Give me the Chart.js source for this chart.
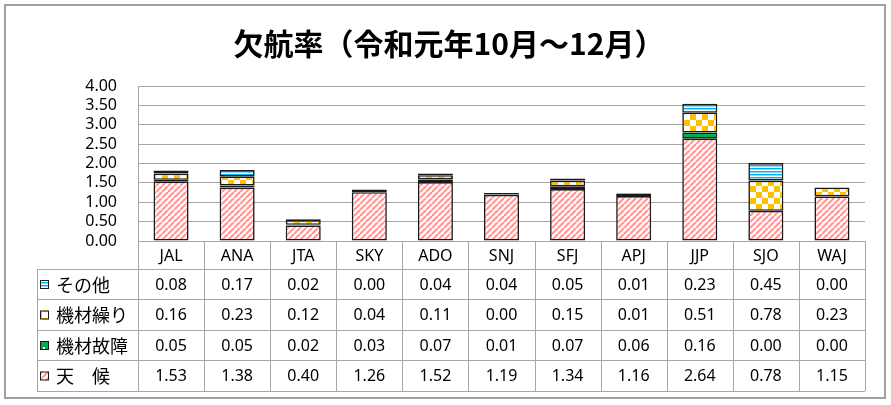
<!DOCTYPE html>
<html lang="ja">
  <head>
    <meta charset="UTF-8" />
    <title>欠航率</title>
    <script src="https://cdn.jsdelivr.net/npm/chart.js@4.4.1/dist/chart.umd.min.js"></script>
    <style>
      body { margin: 0; background: #fff; }
      canvas { display: block; }
    </style>
  </head>
  <body>
    <canvas id="chart-kekko" width="891" height="405"></canvas>

    <script>
      // airline codes
      const airlines = ["JAL", "ANA", "JTA", "SKY", "ADO", "SNJ", "SFJ", "APJ", "JJP", "SJO", "WAJ"];

      // rates per cause (%)
      const tenkou = [1.53, 1.38, 0.40, 1.26, 1.52, 1.19, 1.34, 1.16, 2.64, 0.78, 1.15];
      const kizaiKosho = [0.05, 0.05, 0.02, 0.03, 0.07, 0.01, 0.07, 0.06, 0.16, 0.00, 0.00];
      const kizaiKuri = [0.16, 0.23, 0.12, 0.04, 0.11, 0.00, 0.15, 0.01, 0.51, 0.78, 0.23];
      const sonota = [0.08, 0.17, 0.02, 0.00, 0.04, 0.04, 0.05, 0.01, 0.23, 0.45, 0.00];

      const yTicks = [0, 0.5, 1, 1.5, 2, 2.5, 3, 3.5, 4];
      const titleText = "欠航率（令和元年10月～12月）";

      const canvas = document.getElementById("chart-kekko");
      const ctx = canvas.getContext("2d");

      // little tiles for the excel-like fill patterns
      function makePattern(size, drawTile) {
        const c = document.createElement("canvas");
        c.width = size[0];
        c.height = size[1];
        const g = c.getContext("2d");
        drawTile(g, size[0], size[1]);
        return ctx.createPattern(c, "repeat");
      }

      const pinkStripe = makePattern([6, 6], function (g, w, h) {
        g.fillStyle = "#fff";
        g.fillRect(0, 0, w, h);
        g.strokeStyle = "#ff9999";
        g.lineWidth = 2.2;
        for (let k = -1; k <= 1; k++) {
          g.beginPath();
          g.moveTo(k * w, h);
          g.lineTo(k * w + w, 0);
          g.stroke();
        }
      });

      const greenDots = makePattern([8, 8], function (g, w, h) {
        g.fillStyle = "#00b050";
        g.fillRect(0, 0, w, h);
        g.fillStyle = "#fff";
        g.fillRect(3, 3, 2, 2);
      });

      const orangeCheck = makePattern([12, 12], function (g, w, h) {
        g.fillStyle = "#fff";
        g.fillRect(0, 0, w, h);
        g.fillStyle = "#ffc000";
        g.fillRect(0, 0, 6, 6);
        g.fillRect(6, 6, 6, 6);
      });

      const blueLines = makePattern([4, 3], function (g, w, h) {
        g.fillStyle = "#fff";
        g.fillRect(0, 0, w, h);
        g.fillStyle = "#00b0f0";
        g.fillRect(0, 0, w, 1);
        g.fillStyle = "#8fd8f6";
        g.fillRect(0, 1, w, 1);
      });

      const datasets = [
        { label: "天　候", data: tenkou, backgroundColor: pinkStripe },
        { label: "機材故障", data: kizaiKosho, backgroundColor: greenDots },
        { label: "機材繰り", data: kizaiKuri, backgroundColor: orangeCheck },
        { label: "その他", data: sonota, backgroundColor: blueLines },
      ];
      datasets.forEach(function (d) {
        d.borderColor = "#1a1a1a";
        d.borderWidth = 1.6;
        d.borderSkipped = false;
        d.barPercentage = 0.53;
        d.categoryPercentage = 1;
      });

      const gridGray = "#a6a6a6";
      const fontFam = "'Noto Sans', 'Noto Sans CJK JP', sans-serif";

      // title, data table under the plot, frame around the whole thing
      const tablePlugin = {
        id: "dataTable",
        beforeDraw(chart) {
          const g = chart.ctx;
          g.save();
          g.fillStyle = "#fff";
          g.fillRect(0, 0, chart.width, chart.height);
          g.restore();
        },
        afterDraw(chart) {
          const g = chart.ctx;
          const area = chart.chartArea;
          const xs = chart.scales.x;
          const colW = (area.right - area.left) / airlines.length;
          const rowY = [area.bottom, 269, 299, 330, 360, 391];
          const legendLeft = 37;
          const rows = [
            { label: "その他", data: sonota, fill: blueLines },
            { label: "機材繰り", data: kizaiKuri, fill: orangeCheck },
            { label: "機材故障", data: kizaiKosho, fill: greenDots },
            { label: "天　候", data: tenkou, fill: pinkStripe },
          ];

          g.save();
          g.fillStyle = "#000";
          g.textAlign = "center";
          g.textBaseline = "middle";
          g.font = "bold 30px 'Noto Sans CJK JP', sans-serif";
          g.fillText(titleText, 449, 44);

          g.strokeStyle = gridGray;
          g.lineWidth = 1;

          // horizontal rules
          g.beginPath();
          g.moveTo(area.left, rowY[0] + 0.5);
          g.lineTo(area.right, rowY[0] + 0.5);
          for (let r = 1; r < rowY.length; r++) {
            g.moveTo(legendLeft, rowY[r] + 0.5);
            g.lineTo(area.right, rowY[r] + 0.5);
          }
          // vertical rules
          for (let i = 0; i <= airlines.length; i++) {
            const x = Math.round(area.left + i * colW) + 0.5;
            g.moveTo(x, rowY[0]);
            g.lineTo(x, rowY[rowY.length - 1]);
          }
          g.moveTo(legendLeft + 0.5, rowY[1]);
          g.lineTo(legendLeft + 0.5, rowY[rowY.length - 1]);
          g.stroke();

          g.fillStyle = "#000";
          g.font = "16px " + fontFam;
          airlines.forEach(function (a, i) {
            g.fillText(a, xs.getPixelForValue(i), (rowY[0] + rowY[1]) / 2 + 1);
          });

          rows.forEach(function (row, r) {
            const yc = (rowY[r + 1] + rowY[r + 2]) / 2 + 1;
            g.font = "16px " + fontFam;
            g.fillStyle = "#000";
            g.textAlign = "center";
            row.data.forEach(function (v, i) {
              g.fillText(v.toFixed(2), xs.getPixelForValue(i), yc);
            });
            // legend key
            g.fillStyle = row.fill;
            g.fillRect(40, yc - 5, 9, 9);
            g.strokeStyle = "#1a1a1a";
            g.lineWidth = 1;
            g.strokeRect(40.5, yc - 4.5, 8, 8);
            g.fillStyle = "#000";
            g.textAlign = "left";
            g.font = "18px 'Noto Sans CJK JP', sans-serif";
            g.fillText(row.label, 56, yc);
          });

          // outer frame
          g.strokeStyle = "#a0a0a0";
          g.lineWidth = 2;
          g.strokeRect(5, 5, 880, 393);
          g.restore();
        },
      };

      const config = {
        type: "bar",
        data: { labels: airlines, datasets: datasets },
        options: {
          responsive: false,
          animation: false,
          layout: { padding: { left: 0, right: 26, top: 86, bottom: 164 } },
          plugins: {
            legend: { display: false },
            tooltip: { enabled: false },
            title: { display: false },
          },
          scales: {
            x: {
              display: false,
              stacked: true,
            },
            y: {
              stacked: true,
              min: 0,
              max: 4,
              afterFit: function (scale) {
                scale.width = 138;
              },
              afterBuildTicks: function (scale) {
                scale.ticks = yTicks.map(function (v) {
                  return { value: v };
                });
              },
              ticks: {
                autoSkip: false,
                padding: 21,
                color: "#000",
                font: { family: fontFam, size: 16 },
                callback: function (v) {
                  return Number(v).toFixed(2);
                },
              },
              grid: { color: gridGray, drawTicks: false, lineWidth: 1 },
              border: { color: gridGray },
            },
          },
        },
        plugins: [tablePlugin],
      };

      const chart = new Chart(ctx, config);
    </script>
  </body>
</html>
